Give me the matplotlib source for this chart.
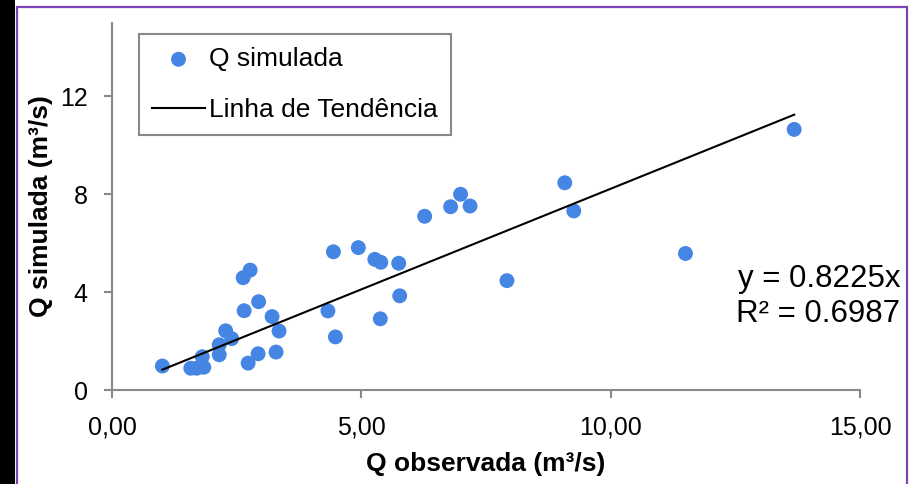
import numpy as np
import matplotlib
matplotlib.use("Agg")
import matplotlib.pyplot as plt
from matplotlib.patches import Rectangle

plt.rcParams["font.family"] = ["Liberation Sans", "DejaVu Sans"]

# ── DATA ─────────────────────────────────────────────
q_obs = [1.01, 1.58, 1.70, 1.84, 1.81, 2.15, 2.15, 2.28, 2.40, 2.73, 2.93, 2.65,
         2.94, 2.63, 2.77, 3.21, 3.35, 3.29, 4.33, 4.48, 4.44, 4.94, 5.27, 5.39,
         5.75, 5.77, 5.38, 6.27, 6.79, 6.99, 7.18, 7.92, 9.08, 9.26, 11.50, 13.68]
q_sim = [0.98, 0.89, 0.89, 0.93, 1.36, 1.44, 1.85, 2.42, 2.10, 1.10, 1.48, 3.24,
         3.61, 4.59, 4.90, 3.00, 2.41, 1.55, 3.23, 2.17, 5.65, 5.82, 5.34, 5.22,
         5.18, 3.85, 2.91, 7.10, 7.49, 8.00, 7.52, 4.47, 8.47, 7.32, 5.58, 10.65]
slope = 0.8225
r2 = 0.6987

x_ticks = [0, 5, 10, 15]
x_tick_labels = ["0,00", "5,00", "10,00", "15,00"]
y_ticks = [0, 4, 8, 12]

BLUE = "#4585E3"
GRAY = "#898989"

# ── FIGURE ───────────────────────────────────────────
fig = plt.figure(figsize=(9.10, 4.84), dpi=100)
ax = fig.add_axes([112/910, 1 - 390/484, 748/910, 367/484])

# frame decoration (black strip + purple border)
fig.patches.append(Rectangle((0, 0), 15/910, 1, transform=fig.transFigure,
                             facecolor="black", edgecolor="none", zorder=0))
fig.patches.append(Rectangle((17/910, -0.05), 890/910, 1.05 - 7/484,
                             transform=fig.transFigure, facecolor="none",
                             edgecolor="#7B44B4", lw=1.6, zorder=0))

ax.scatter(q_obs, q_sim, s=115, color=BLUE, edgecolors="none",
           label="Q simulada", zorder=3)

tx = np.array([min(q_obs), max(q_obs)])
ax.plot(tx, slope * tx, color="black", lw=1.5, label="Linha de Tendência", zorder=4)

ax.set_xlim(0, 15)
ax.set_ylim(0, 15)
ax.set_xticks(x_ticks)
ax.set_xticklabels(x_tick_labels)
ax.set_yticks(y_ticks)

for s in ["top", "right"]:
    ax.spines[s].set_visible(False)
for s in ["left", "bottom"]:
    ax.spines[s].set_color(GRAY)
    ax.spines[s].set_linewidth(1.5)
ax.tick_params(axis="both", colors=GRAY, labelcolor="black", width=1.5,
               length=5.5, labelsize=18)
ax.tick_params(axis="y", pad=12)
ax.tick_params(axis="x", pad=13)

ax.set_xlabel("Q observada (m³/s)", fontsize=19, fontweight="bold", labelpad=9)
ax.set_ylabel("Q simulada (m³/s)", fontsize=19, fontweight="bold", labelpad=5)

leg = ax.legend(loc="upper left", bbox_to_anchor=(0.036, 0.970),
                borderaxespad=0, fontsize=19, frameon=True, fancybox=False,
                framealpha=1, edgecolor=GRAY, borderpad=0.5,
                labelspacing=1.02, handlelength=2.0, handletextpad=0.15)
leg.get_frame().set_linewidth(1.5)

fig.text(900/910, 1 - 279/484, f"y = {slope:.4f}x", ha="right", va="center", fontsize=22.5)
fig.text(900/910, 1 - 314/484, f"R² = {r2:.4f}", ha="right", va="center", fontsize=22.5)

fig.savefig("out.png", dpi=100)
